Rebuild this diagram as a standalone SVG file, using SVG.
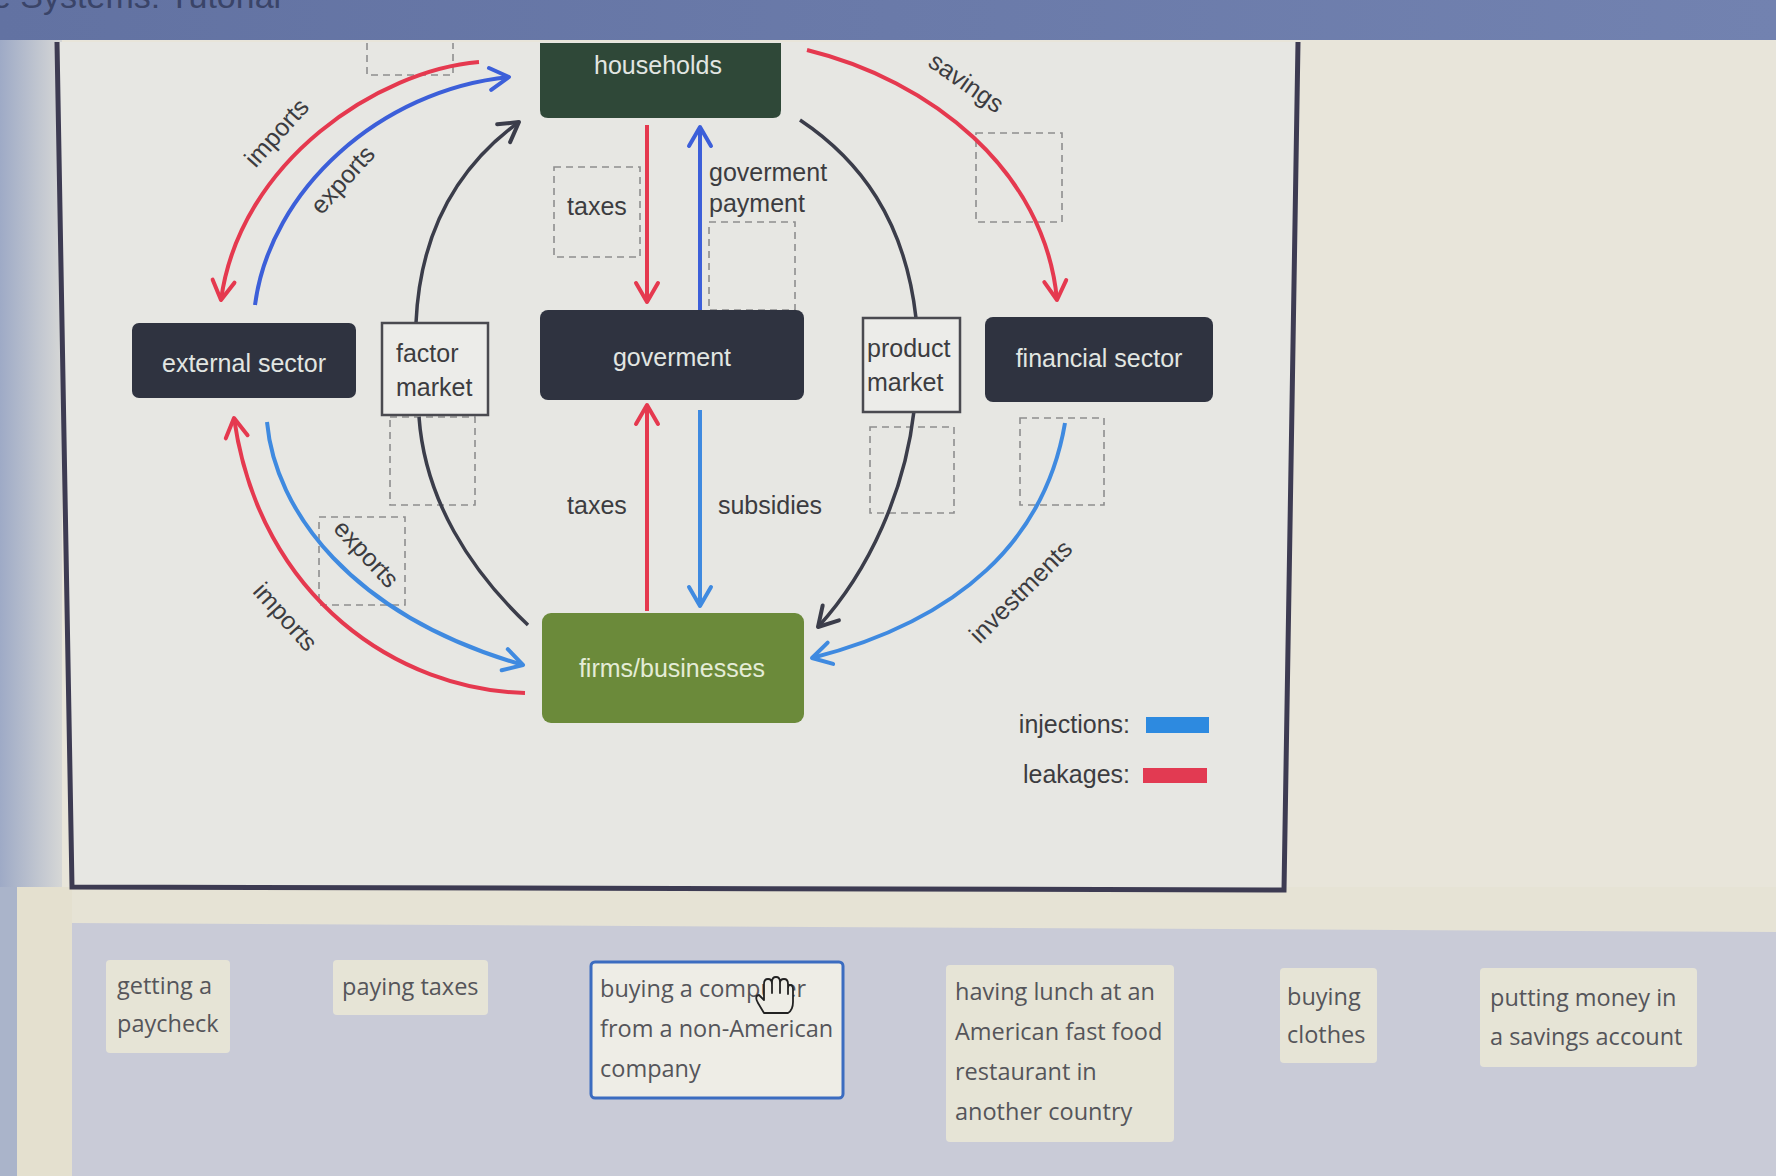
<svg xmlns="http://www.w3.org/2000/svg" width="1776" height="1176" viewBox="0 0 1776 1176">
<defs>
<linearGradient id="leftg" x1="0" y1="0" x2="1" y2="0">
<stop offset="0" stop-color="#9eaac6"/><stop offset="1" stop-color="#d6d7d6"/>
</linearGradient>
<linearGradient id="barg" x1="0" y1="0" x2="1" y2="0">
<stop offset="0" stop-color="#6272a2"/><stop offset="1" stop-color="#7282b0"/>
</linearGradient>
<marker id="ar-red" viewBox="0 0 28 28" refX="24" refY="14" markerWidth="28" markerHeight="28" markerUnits="userSpaceOnUse" orient="auto"><path d="M5 3 L24 14 L5 25" fill="none" stroke="#e5394f" stroke-width="4" stroke-linecap="round" stroke-linejoin="round"/></marker>
<marker id="ar-blue" viewBox="0 0 28 28" refX="24" refY="14" markerWidth="28" markerHeight="28" markerUnits="userSpaceOnUse" orient="auto"><path d="M5 3 L24 14 L5 25" fill="none" stroke="#3c5fd9" stroke-width="4" stroke-linecap="round" stroke-linejoin="round"/></marker>
<marker id="ar-lblue" viewBox="0 0 28 28" refX="24" refY="14" markerWidth="28" markerHeight="28" markerUnits="userSpaceOnUse" orient="auto"><path d="M5 3 L24 14 L5 25" fill="none" stroke="#3f8ae0" stroke-width="4" stroke-linecap="round" stroke-linejoin="round"/></marker>
<marker id="ar-dark" viewBox="0 0 28 28" refX="24" refY="14" markerWidth="28" markerHeight="28" markerUnits="userSpaceOnUse" orient="auto"><path d="M5 3 L24 14 L5 25" fill="none" stroke="#3b3d4a" stroke-width="4" stroke-linecap="round" stroke-linejoin="round"/></marker>
</defs>
<style>
.lbl{font-family:"Liberation Sans",Arial,sans-serif;font-size:25px;fill:#3c3c40}
.ntx{font-family:"Liberation Sans",Arial,sans-serif;font-size:25px;fill:#e2e6e2;text-anchor:middle}
.dark{fill:#2f3340}
.dash{fill:none;stroke:#8e8e8e;stroke-width:1.6;stroke-dasharray:7 5}
.box{fill:#ecece9;stroke:#4a4a50;stroke-width:2.5}
.red{fill:none;stroke:#e5394f;stroke-width:4}
.blue{fill:none;stroke:#3c5fd9;stroke-width:4}
.lblue{fill:none;stroke:#3f8ae0;stroke-width:4}
.dk{fill:none;stroke:#3b3d4a;stroke-width:3.5}
.card{fill:#e6e4d6}
.ctx{font-family:"Open Sans","Liberation Sans",sans-serif;font-size:23.5px;fill:#55555a}
</style>

<!-- background -->
<rect x="0" y="0" width="1776" height="1176" fill="#e8e5da"/>
<rect x="0" y="40" width="62" height="850" fill="url(#leftg)"/>
<rect x="0" y="887" width="1776" height="50" fill="#e6e3d5"/>
<rect x="0" y="887" width="72" height="289" fill="#e4e0cf"/>
<rect x="0" y="887" width="17" height="289" fill="#aab4ca"/>
<polygon points="72,923 1776,932 1776,1176 72,1176" fill="#c9cbd7"/>
<rect x="0" y="0" width="1776" height="40" fill="url(#barg)"/>
<text x="-8" y="8" style="font-family:'Liberation Sans',Arial,sans-serif;font-size:34px;fill:#3a4468">e Systems: Tutorial</text>

<!-- panel -->
<polygon points="57,42 1298,42 1284,890 72,887" fill="#e7e7e3"/>
<polyline points="57,42 72,887 1284,890 1298,42" fill="none" stroke="#3d3b52" stroke-width="5"/>

<!-- empty drop targets -->
<g id="drop-targets">
<path class="dash" d="M367 43 V75 H453 V43"/>
<rect class="dash" x="554" y="167" width="86" height="90"/>
<rect class="dash" x="709" y="222" width="86" height="88"/>
<rect class="dash" x="976" y="133" width="86" height="89"/>
<rect class="dash" x="390" y="417" width="85" height="88"/>
<rect class="dash" x="319" y="517" width="86" height="88"/>
<rect class="dash" x="870" y="427" width="84" height="86"/>
<rect class="dash" x="1020" y="418" width="84" height="87"/>
</g>

<!-- connectors -->
<g id="connectors">
<path class="red" d="M479 62 C380 70 240 160 221 300" marker-end="url(#ar-red)"/>
<path class="blue" d="M255 305 C270 190 380 90 509 77" marker-end="url(#ar-blue)"/>
<path class="dk" d="M416 323 C420 230 460 165 519 122" marker-end="url(#ar-dark)"/>
<path class="dk" d="M528 625 C470 570 425 500 419 417"/>
<path class="dk" d="M800 120 C860 160 905 220 916 318"/>
<path class="dk" d="M914 411 C905 490 870 570 818 627" marker-end="url(#ar-dark)"/>
<path class="red" d="M807 50 C930 80 1045 170 1057 300" marker-end="url(#ar-red)"/>
<path class="lblue" d="M1065 423 C1045 540 960 620 812 658" marker-end="url(#ar-lblue)"/>
<path class="blue" d="M700 310 L700 127" marker-end="url(#ar-blue)"/>
<path class="red" d="M647 125 L647 302" marker-end="url(#ar-red)"/>
<path class="red" d="M647 611 L647 405" marker-end="url(#ar-red)"/>
<path class="lblue" d="M700 410 L700 606" marker-end="url(#ar-lblue)"/>
<path class="red" d="M525 693 C400 690 260 600 234 418" marker-end="url(#ar-red)"/>
<path class="lblue" d="M267 422 C275 510 350 615 523 665" marker-end="url(#ar-lblue)"/>
</g>

<!-- connector labels -->
<g id="labels">
<text class="lbl" x="597" y="215" text-anchor="middle">taxes</text>
<text class="lbl" x="709" y="181">goverment</text>
<text class="lbl" x="709" y="212">payment</text>
<text class="lbl" x="597" y="514" text-anchor="middle">taxes</text>
<text class="lbl" x="770" y="514" text-anchor="middle">subsidies</text>
<text class="lbl" transform="translate(277,133) rotate(-48)" x="0" y="8" text-anchor="middle">imports</text>
<text class="lbl" transform="translate(343,180) rotate(-48)" x="0" y="8" text-anchor="middle">exports</text>
<text class="lbl" transform="translate(966,83) rotate(35)" x="0" y="8" text-anchor="middle">savings</text>
<text class="lbl" transform="translate(366,554) rotate(47)" x="0" y="8" text-anchor="middle">exports</text>
<text class="lbl" transform="translate(285,617) rotate(48)" x="0" y="8" text-anchor="middle">imports</text>
<text class="lbl" transform="translate(1021,592) rotate(-45)" x="0" y="8" text-anchor="middle">investments</text>
</g>

<!-- nodes -->
<g id="households">
<path d="M540 43 H781 V110 Q781 118 773 118 H548 Q540 118 540 110 Z" fill="#2f4838"/>
<text class="ntx" x="658" y="74">households</text>
</g>
<g id="government">
<rect class="dark" x="540" y="310" width="264" height="90" rx="8"/>
<text class="ntx" x="672" y="366">goverment</text>
</g>
<g id="external-sector">
<rect class="dark" x="132" y="323" width="224" height="75" rx="7"/>
<text class="ntx" x="244" y="372">external sector</text>
</g>
<g id="financial-sector">
<rect class="dark" x="985" y="317" width="228" height="85" rx="8"/>
<text class="ntx" x="1099" y="367">financial sector</text>
</g>
<g id="firms">
<rect x="542" y="613" width="262" height="110" rx="9" fill="#6b8a3a"/>
<text class="ntx" x="672" y="677" style="fill:#e4ecd6">firms/businesses</text>
</g>
<g id="factor-market">
<rect class="box" x="382" y="323" width="106" height="92"/>
<text class="lbl" x="396" y="362">factor</text>
<text class="lbl" x="396" y="396">market</text>
</g>
<g id="product-market">
<rect class="box" x="863" y="318" width="97" height="94"/>
<text class="lbl" x="867" y="357">product</text>
<text class="lbl" x="867" y="391">market</text>
</g>

<!-- legend -->
<g id="legend">
<text class="lbl" x="1130" y="733" text-anchor="end">injections:</text>
<rect x="1146" y="717" width="63" height="16" fill="#2d8ae0"/>
<text class="lbl" x="1130" y="783" text-anchor="end">leakages:</text>
<rect x="1143" y="768" width="64" height="15" fill="#e23a52"/>
</g>

<!-- draggable cards -->
<g id="card-paycheck">
<rect class="card" x="106" y="960" width="124" height="93" rx="4"/>
<text class="ctx" x="117" y="994">getting a</text>
<text class="ctx" x="117" y="1032">paycheck</text>
</g>
<g id="card-taxes">
<rect class="card" x="333" y="960" width="155" height="55" rx="4"/>
<text class="ctx" x="342" y="995">paying taxes</text>
</g>
<g id="card-computer">
<rect x="591" y="962" width="252" height="136" rx="4" fill="#eeede6" stroke="#3b6cc0" stroke-width="3"/>
<text class="ctx" x="600" y="997">buying a computer</text>
<text class="ctx" x="600" y="1037">from a non-American</text>
<text class="ctx" x="600" y="1077">company</text>
<path d="M764 1013 L758 1003 Q754 996 759 995 L764 1000 L764 984 Q764 979 768 979 Q772 979 772 984 L772 993 L772 982 Q772 977 776 977 Q780 977 780 982 L780 993 L780 983 Q780 979 784 979 Q788 979 788 984 L788 994 L788 988 Q788 985 790 985 Q793 985 793 989 L793 1002 Q793 1010 788 1013 Z" fill="#eeede6" stroke="#222" stroke-width="1.8" stroke-linejoin="round"/>
</g>
<g id="card-lunch">
<rect class="card" x="946" y="965" width="228" height="177" rx="4"/>
<text class="ctx" x="955" y="1000">having lunch at an</text>
<text class="ctx" x="955" y="1040">American fast food</text>
<text class="ctx" x="955" y="1080">restaurant in</text>
<text class="ctx" x="955" y="1120">another country</text>
</g>
<g id="card-clothes">
<rect class="card" x="1280" y="968" width="97" height="95" rx="4"/>
<text class="ctx" x="1287" y="1005">buying</text>
<text class="ctx" x="1287" y="1043">clothes</text>
</g>
<g id="card-savings">
<rect class="card" x="1480" y="968" width="217" height="99" rx="4"/>
<text class="ctx" x="1490" y="1006">putting money in</text>
<text class="ctx" x="1490" y="1045">a savings account</text>
</g>
</svg>
